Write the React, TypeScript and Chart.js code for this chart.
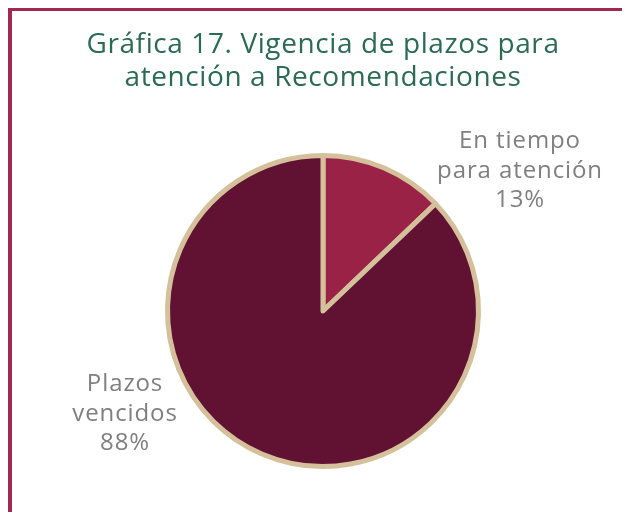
import React, { useEffect, useRef } from "react";
import { Chart, registerables } from "chart.js";

Chart.register(...registerables);

const categories = ["En tiempo para atención", "Plazos vencidos"];
const labelLines = [["En tiempo", "para atención"], ["Plazos", "vencidos"]];
const values = [13, 88];
const percentLabels = ["13%", "88%"];
const sliceColors = ["#9b2247", "#611232"];
const titleLines = ["Gráfica 17. Vigencia de plazos para", "atención a Recomendaciones"];
// label block centre offsets, as fractions of the pie radius
const labelOffsets = [
  [1.247, -0.886],
  [-1.253, 0.652],
];

const textPlugin = {
  id: "textPlugin",
  afterDraw(chart: any) {
    const ctx = chart.ctx;
    const meta = chart.getDatasetMeta(0);
    const arc0 = meta.data[0];
    if (!arc0) return;
    const cx = arc0.x;
    const cy = arc0.y;
    const r = arc0.outerRadius + 2.5;
    ctx.save();
    ctx.textAlign = "center";
    ctx.textBaseline = "middle";
    // title
    ctx.fillStyle = "#2b6a53";
    ctx.font = '28px "Open Sans"';
    (ctx as any).letterSpacing = "0.6px";
    titleLines.forEach((t, i) => ctx.fillText(t, cx, 45 + i * 33));
    // data labels
    ctx.fillStyle = "#7f7f7f";
    ctx.font = '24px "Open Sans"';
    (ctx as any).letterSpacing = "0.9px";
    meta.data.forEach((_: any, i: number) => {
      const lines = [...labelLines[i], percentLabels[i]];
      const lx = cx + labelOffsets[i][0] * r;
      const ly = cy + labelOffsets[i][1] * r;
      const lh = 29.5;
      lines.forEach((t, j) => {
        ctx.fillText(t, lx, ly + (j - (lines.length - 1) / 2) * lh);
      });
    });
    ctx.restore();
  },
};

export default function App() {
  const ref = useRef<HTMLCanvasElement>(null);
  useEffect(() => {
    document.body.style.overflow = "hidden";
    const chart = new Chart(ref.current!, {
      type: "pie",
      data: {
        labels: categories,
        datasets: [
          {
            data: values,
            backgroundColor: sliceColors,
            borderColor: "#d4c19c",
            borderWidth: 5,
            borderJoinStyle: "round",
          },
        ],
      },
      options: {
        animation: false,
        responsive: false,
        layout: { padding: { left: 165, right: 149, top: 153, bottom: 51 } },
        plugins: {
          legend: { display: false },
          tooltip: { enabled: false },
          title: { display: false },
        },
      },
      plugins: [textPlugin],
    });
    return () => chart.destroy();
  }, []);
  return (
    <div style={{ position: "relative", width: 630, height: 520, margin: -8, background: "#fff" }}>
      <div
        style={{
          position: "absolute",
          left: 8,
          top: 7,
          right: 0,
          bottom: 0,
          borderLeft: "4px solid #a0294f",
          borderTop: "4px solid #a0294f",
        }}
      />
      <canvas ref={ref} width={630} height={520} style={{ position: "absolute", left: 0, top: 0 }} />
    </div>
  );
}
